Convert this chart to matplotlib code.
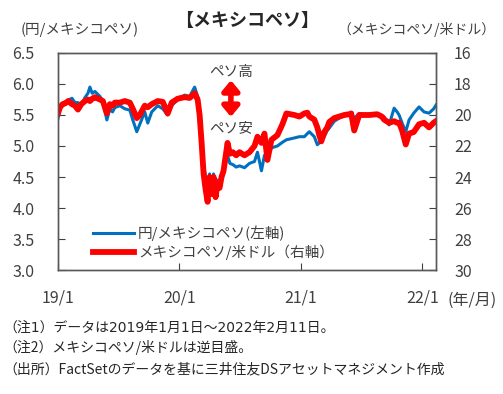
import matplotlib
matplotlib.use("Agg")
import matplotlib.pyplot as plt
from matplotlib.lines import Line2D
import pandas as pd

plt.rcParams['font.family'] = ['Noto Sans CJK JP', 'DejaVu Sans']

dates = ["2019-01-01", "2019-01-07", "2019-01-15", "2019-01-22", "2019-02-01", "2019-02-12",
         "2019-02-21", "2019-03-02", "2019-03-12", "2019-03-23", "2019-04-01", "2019-04-07",
         "2019-04-14", "2019-04-22", "2019-05-07", "2019-05-16", "2019-05-28", "2019-06-06",
         "2019-06-14", "2019-06-21", "2019-07-06", "2019-07-21", "2019-08-05", "2019-08-14",
         "2019-08-26", "2019-09-04", "2019-09-19", "2019-09-28", "2019-10-10", "2019-10-28",
         "2019-11-12", "2019-11-27", "2019-12-09", "2019-12-27", "2020-01-17", "2020-02-01",
         "2020-02-16", "2020-02-25", "2020-03-02", "2020-03-08", "2020-03-14", "2020-03-20",
         "2020-03-26", "2020-04-01", "2020-04-07", "2020-04-13", "2020-04-19", "2020-04-25",
         "2020-05-01", "2020-05-07", "2020-05-13", "2020-05-25", "2020-06-01", "2020-06-10",
         "2020-06-20", "2020-06-30", "2020-07-15", "2020-07-30", "2020-08-14", "2020-08-23",
         "2020-09-04", "2020-09-13", "2020-09-22", "2020-10-04", "2020-10-22", "2020-11-06",
         "2020-11-18", "2020-12-12", "2020-12-27", "2021-01-11", "2021-01-20", "2021-01-26",
         "2021-02-10", "2021-02-19", "2021-02-25", "2021-03-03", "2021-03-12", "2021-03-21",
         "2021-03-27", "2021-04-11", "2021-04-26", "2021-05-11", "2021-05-26", "2021-06-01",
         "2021-06-10", "2021-06-25", "2021-07-25", "2021-08-18", "2021-09-01", "2021-09-08",
         "2021-09-23", "2021-10-08", "2021-10-17", "2021-10-23", "2021-11-01", "2021-11-12",
         "2021-11-22", "2021-12-06", "2021-12-22", "2022-01-06", "2022-01-21", "2022-02-04",
         "2022-02-11"]

# 円/メキシコペソ (左軸)
jpy_mxn = [5.45, 5.60, 5.66, 5.69, 5.74, 5.77, 5.70, 5.70, 5.66, 5.78, 5.85, 5.95,
           5.85, 5.88, 5.80, 5.72, 5.42, 5.60, 5.55, 5.62, 5.65, 5.60, 5.58, 5.42,
           5.23, 5.35, 5.55, 5.37, 5.55, 5.65, 5.60, 5.50, 5.65, 5.75, 5.82, 5.80,
           5.95, 5.80, 5.47, 5.05, 4.70, 4.50, 4.25, 4.55, 4.30, 4.55, 4.25, 4.45,
           4.40, 4.55, 4.60, 4.85, 4.72, 4.70, 4.66, 4.68, 4.65, 4.72, 4.75, 4.90,
           4.60, 4.85, 4.80, 4.97, 5.00, 5.06, 5.10, 5.13, 5.15, 5.15, 5.20, 5.23,
           5.15, 5.02, 5.05, 5.10, 5.15, 5.25, 5.29, 5.40, 5.45, 5.50, 5.52, 5.52,
           5.45, 5.52, 5.50, 5.50, 5.48, 5.47, 5.34, 5.61, 5.55, 5.50, 5.37, 5.23,
           5.42, 5.53, 5.63, 5.55, 5.53, 5.60, 5.66]

# メキシコペソ/米ドル (右軸, 逆目盛)
mxn_usd = [19.9, 19.5, 19.3, 19.25, 19.1, 19.3, 19.4, 19.65, 19.3, 19.1, 19.0, 19.1,
           18.95, 18.85, 19.0, 19.1, 19.9, 19.3, 19.4, 19.2, 19.2, 19.1, 19.2, 19.6,
           20.2, 20.0, 19.4, 19.5, 19.3, 19.1, 19.15, 19.9, 19.2, 18.95, 18.85, 18.9,
           18.6, 19.0, 20.0, 21.8, 23.8, 24.8, 25.6, 24.0, 25.1, 24.0, 25.3, 24.4,
           24.7, 24.0, 23.6, 21.8, 22.5, 22.4, 22.6, 22.4, 22.6, 22.4, 22.0, 21.4,
           21.8, 21.2, 22.9, 21.6, 21.3, 20.6, 19.9, 20.0, 20.1, 19.9, 19.85, 20.1,
           20.3, 20.8, 21.3, 21.7, 21.1, 20.8, 20.45, 20.2, 20.1, 20.0, 19.95, 19.9,
           21.0, 20.0, 20.0, 19.95, 20.1, 20.3, 20.5, 20.4, 20.5, 20.5, 21.0, 21.9,
           21.2, 21.1, 20.6, 20.5, 20.8, 20.5, 20.4]

x = pd.to_datetime(dates)
xticks = pd.to_datetime(["2019-01-01", "2020-01-01", "2021-01-01", "2022-01-01"])
xticklabels = ["19/1", "20/1", "21/1", "22/1"]

blue = '#0070C0'
red = '#FF0000'
grey = '#404040'

fig = plt.figure(figsize=(5.03, 3.94), dpi=100)
ax = fig.add_axes([0.1153, 0.3147, 0.7515, 0.5508])
ax2 = ax.twinx()

ax.plot(x, jpy_mxn, color=blue, lw=2.2, solid_joinstyle='round')
ax2.plot(x, mxn_usd, color=red, lw=4.2, solid_joinstyle='round')

ax.set_xlim(pd.Timestamp("2019-01-01"), pd.Timestamp("2022-02-11"))
ax.set_ylim(3.0, 6.5)
ax.set_yticks([3.0, 3.5, 4.0, 4.5, 5.0, 5.5, 6.0, 6.5])
ax.set_yticklabels(['3.0', '3.5', '4.0', '4.5', '5.0', '5.5', '6.0', '6.5'])
ax2.set_ylim(30, 16)
ax2.set_yticks([16, 18, 20, 22, 24, 26, 28, 30])
ax.set_xticks(xticks)
ax.set_xticklabels(xticklabels)

for a in (ax, ax2):
    for s in a.spines.values():
        s.set_color('#595959')
        s.set_linewidth(1.0)
ax.tick_params(axis='y', direction='in', length=5, pad=17, labelsize=11.5, colors=grey)
ax.tick_params(axis='x', direction='in', length=5, pad=14, labelsize=11.5, colors=grey)
ax2.tick_params(axis='y', direction='in', length=5, pad=13, labelsize=11.5, colors=grey)

# 注記
xa = pd.Timestamp("2020-06-04")
ax.annotate('', xy=(xa, 6.06), xytext=(xa, 5.47),
            arrowprops=dict(arrowstyle='<|-|>,head_length=0.6,head_width=0.5',
                            color=red, lw=4, shrinkA=0, shrinkB=0))
ax.text(xa, 6.20, 'ペソ高', ha='center', va='center', fontsize=10.5, color=grey)
ax.text(xa, 5.29, 'ペソ安', ha='center', va='center', fontsize=10.5, color=grey)

handles = [Line2D([], [], color=blue, lw=2.2), Line2D([], [], color=red, lw=4.2)]
ax2.legend(handles, ['円/メキシコペソ(左軸)', 'メキシコペソ/米ドル（右軸）'],
           loc='upper left', bbox_to_anchor=(0.057, 0.268), frameon=False,
           fontsize=10.5, handlelength=2.8, handletextpad=0.3, labelspacing=0.25,
           labelcolor=grey)

fig.text(0.491, 0.949, '【メキシコペソ】', ha='center', va='center', fontsize=13,
         fontweight='bold', color='#262626')
fig.text(0.159, 0.924, '(円/メキシコペソ)', ha='center', va='center', fontsize=10.5, color=grey)
fig.text(0.827, 0.924, '（メキシコペソ/米ドル）', ha='center', va='center', fontsize=10, color=grey)
fig.text(0.889, 0.2386, '(年/月)', ha='left', va='center', fontsize=11.5, color=grey)

fig.text(0.006, 0.1675, '（注1）データは2019年1月1日～2022年2月11日。', ha='left', va='center',
         fontsize=10, color='#262626', family=['DejaVu Sans', 'Noto Sans CJK JP'])
fig.text(0.006, 0.1168, '（注2）メキシコペソ/米ドルは逆目盛。', ha='left', va='center',
         fontsize=10, color='#262626')
fig.text(0.006, 0.0635, '（出所）FactSetのデータを基に三井住友DSアセットマネジメント作成', ha='left',
         va='center', fontsize=10, color='#262626')

plt.savefig('out.png', dpi=100)
